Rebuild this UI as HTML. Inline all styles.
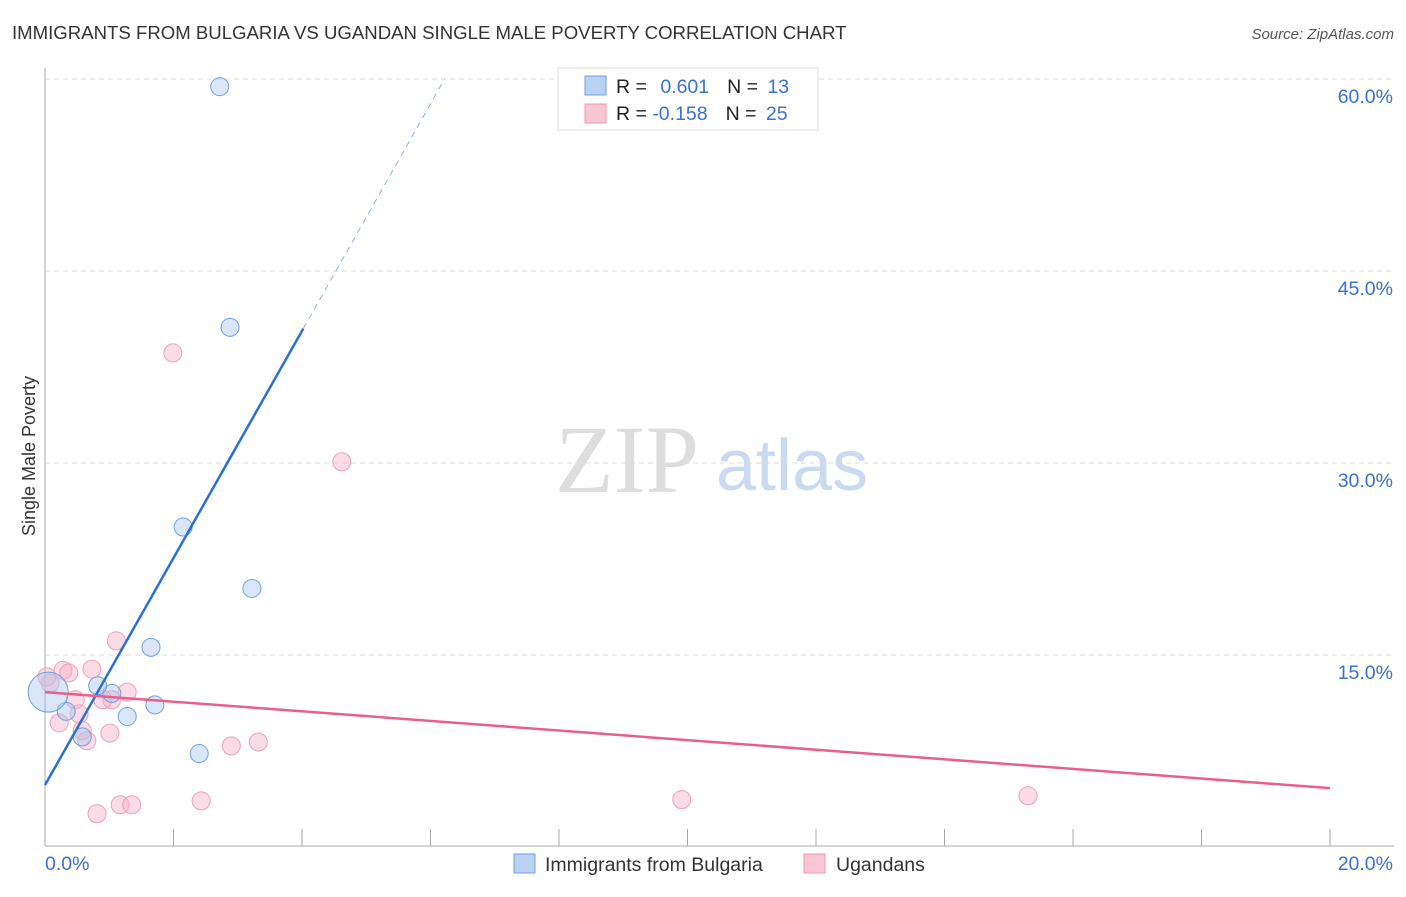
<!DOCTYPE html>
<html><head><meta charset="utf-8"><style>
body{margin:0;background:#fff;font-family:"Liberation Sans",sans-serif;}
</style></head><body>
<svg id="chart" width="1406" height="892" xmlns="http://www.w3.org/2000/svg">
<text x="12" y="39" font-size="18.6" fill="#333">IMMIGRANTS FROM BULGARIA VS UGANDAN SINGLE MALE POVERTY CORRELATION CHART</text>
<text x="1394" y="39" font-size="15" fill="#555" font-style="italic" text-anchor="end">Source: ZipAtlas.com</text>
<text x="35" y="456" font-size="18" fill="#333" text-anchor="middle" transform="rotate(-90 35 456)">Single Male Poverty</text>
<text x="555" y="492" font-size="96" fill="#ddd" font-family="Liberation Serif,serif">ZIP</text>
<text x="716" y="490" font-size="72" fill="#c9daf1">atlas</text>
<g id="grid"></g><g id="pts"></g><g id="lines"></g>
<g>
<rect x="558" y="68" width="260" height="62" fill="#fff" stroke="#ddd"/>
<rect x="585" y="76" width="21" height="19" fill="#b9d2f3" stroke="#6fa0e0"/>
<rect x="585" y="104" width="21" height="19" fill="#f9c6d4" stroke="#ee9ab2"/>
<text x="616" y="93" font-size="19.5" fill="#222">R = <tspan fill="#3a72d0" dx="8">0.601</tspan><tspan fill="#222" dx="18">N = </tspan><tspan fill="#3a72d0" dx="4">13</tspan></text>
<text x="616" y="120" font-size="19.5" fill="#222">R = <tspan fill="#3a72d0" dx="0">-0.158</tspan><tspan fill="#222" dx="18">N = </tspan><tspan fill="#3a72d0" dx="4">25</tspan></text>
</g>
<g>
<rect x="514" y="854" width="21" height="19" fill="#b9d2f3" stroke="#6fa0e0"/>
<text x="545" y="871" font-size="19.5" fill="#333">Immigrants from Bulgaria</text>
<rect x="804" y="854" width="21" height="19" fill="#f9c6d4" stroke="#ee9ab2"/>
<text x="836" y="871" font-size="19.5" fill="#333">Ugandans</text>
</g>
</svg>
<script>
const yTicks=[15,30,45,60];
const yTickLabels=["15.0%","30.0%","45.0%","60.0%"];
const blueX=[2.72,2.88,2.15,3.22,1.65,1.04,0.82,1.28,1.71,0.33,0.58,2.40,0.05];
const blueY=[59.4,40.6,25.0,20.2,15.6,12.0,12.6,10.2,11.1,10.6,8.6,7.3,12.1];
const blueR=[9,9,9,9,9,9,9,9,9,9,9,9,20];
const pinkX=[1.99,4.62,1.11,0.73,0.28,0.37,0.08,0.47,1.28,1.04,0.90,0.53,0.22,0.58,1.01,0.65,2.90,3.32,2.43,1.17,1.35,0.81,9.91,15.3,0.03];
const pinkY=[38.6,30.1,16.1,13.9,13.8,13.6,12.8,11.5,12.1,11.5,11.5,10.4,9.7,9.1,8.9,8.3,7.9,8.2,3.6,3.3,3.3,2.6,3.7,4.0,13.3];
const blueFit=[4.84,8.87];
const pinkFit=[12.1,-0.375];
const NS="http://www.w3.org/2000/svg";
const X=v=>45+v*64.25, Y=v=>847-v*12.8;
function mk(t,a,p){const e=document.createElementNS(NS,t);for(const k in a)e.setAttribute(k,a[k]);p.appendChild(e);return e;}
const g=document.getElementById('grid');
yTicks.forEach((t,i)=>{
 const l=mk('line',{x1:45,x2:1394,y1:Y(t),y2:Y(t),stroke:'#ddd','stroke-dasharray':'5,4'},g);
 
 
 const tx=mk('text',{x:1393,y:Y(t)+24,'font-size':19.5,fill:'#3a72d0','text-anchor':'end'},g);
 tx.textContent=yTickLabels[i];
 
 
});
const ax=mk('line',{x1:45,x2:45,y1:68,y2:846,stroke:'#aaa'},g);


const bx=mk('line',{x1:45,x2:1394,y1:846,y2:846,stroke:'#aaa'},g);


for(let i=0;i<=10;i++){
 const tk=mk('line',{x1:X(i*2),x2:X(i*2),y1:829,y2:846,stroke:'#aaa'},g);
 
 
}
const xl=mk('text',{x:45,y:870,'font-size':19.5,fill:'#3a72d0'},g);xl.textContent='0.0%';


const xr=mk('text',{x:1393,y:870,'font-size':19.5,fill:'#3a72d0','text-anchor':'end'},g);xr.textContent='20.0%';


const p=document.getElementById('pts');
pinkX.forEach((x,i)=>{
 const c=mk('circle',{cx:X(x),cy:Y(pinkY[i]),r:9,fill:'rgba(246,176,198,0.45)',stroke:'#eea0b8','stroke-width':1},p);
 
 
});
blueX.forEach((x,i)=>{
 const c=mk('circle',{cx:X(x),cy:Y(blueY[i]),r:blueR[i],fill:'rgba(170,200,240,0.45)',stroke:'#6fa0e0','stroke-width':1},p);
 
 
});
const L=document.getElementById('lines');
const bEnd=4.02, bTop=(60-blueFit[0])/blueFit[1];
const b1=mk('line',{x1:X(0),y1:Y(blueFit[0]),x2:X(bEnd),y2:Y(blueFit[0]+blueFit[1]*bEnd),stroke:'#2a6fd6','stroke-width':2.5},L);


const b2=mk('line',{x1:X(bEnd),y1:Y(blueFit[0]+blueFit[1]*bEnd),x2:X(bTop),y2:Y(60),stroke:'#8fb0e0','stroke-width':1,'stroke-dasharray':'6,5'},L);


const p1=mk('line',{x1:X(0),y1:Y(pinkFit[0]),x2:X(20),y2:Y(pinkFit[0]+pinkFit[1]*20),stroke:'#e8608a','stroke-width':2.5},L);


</script>
</body></html>
